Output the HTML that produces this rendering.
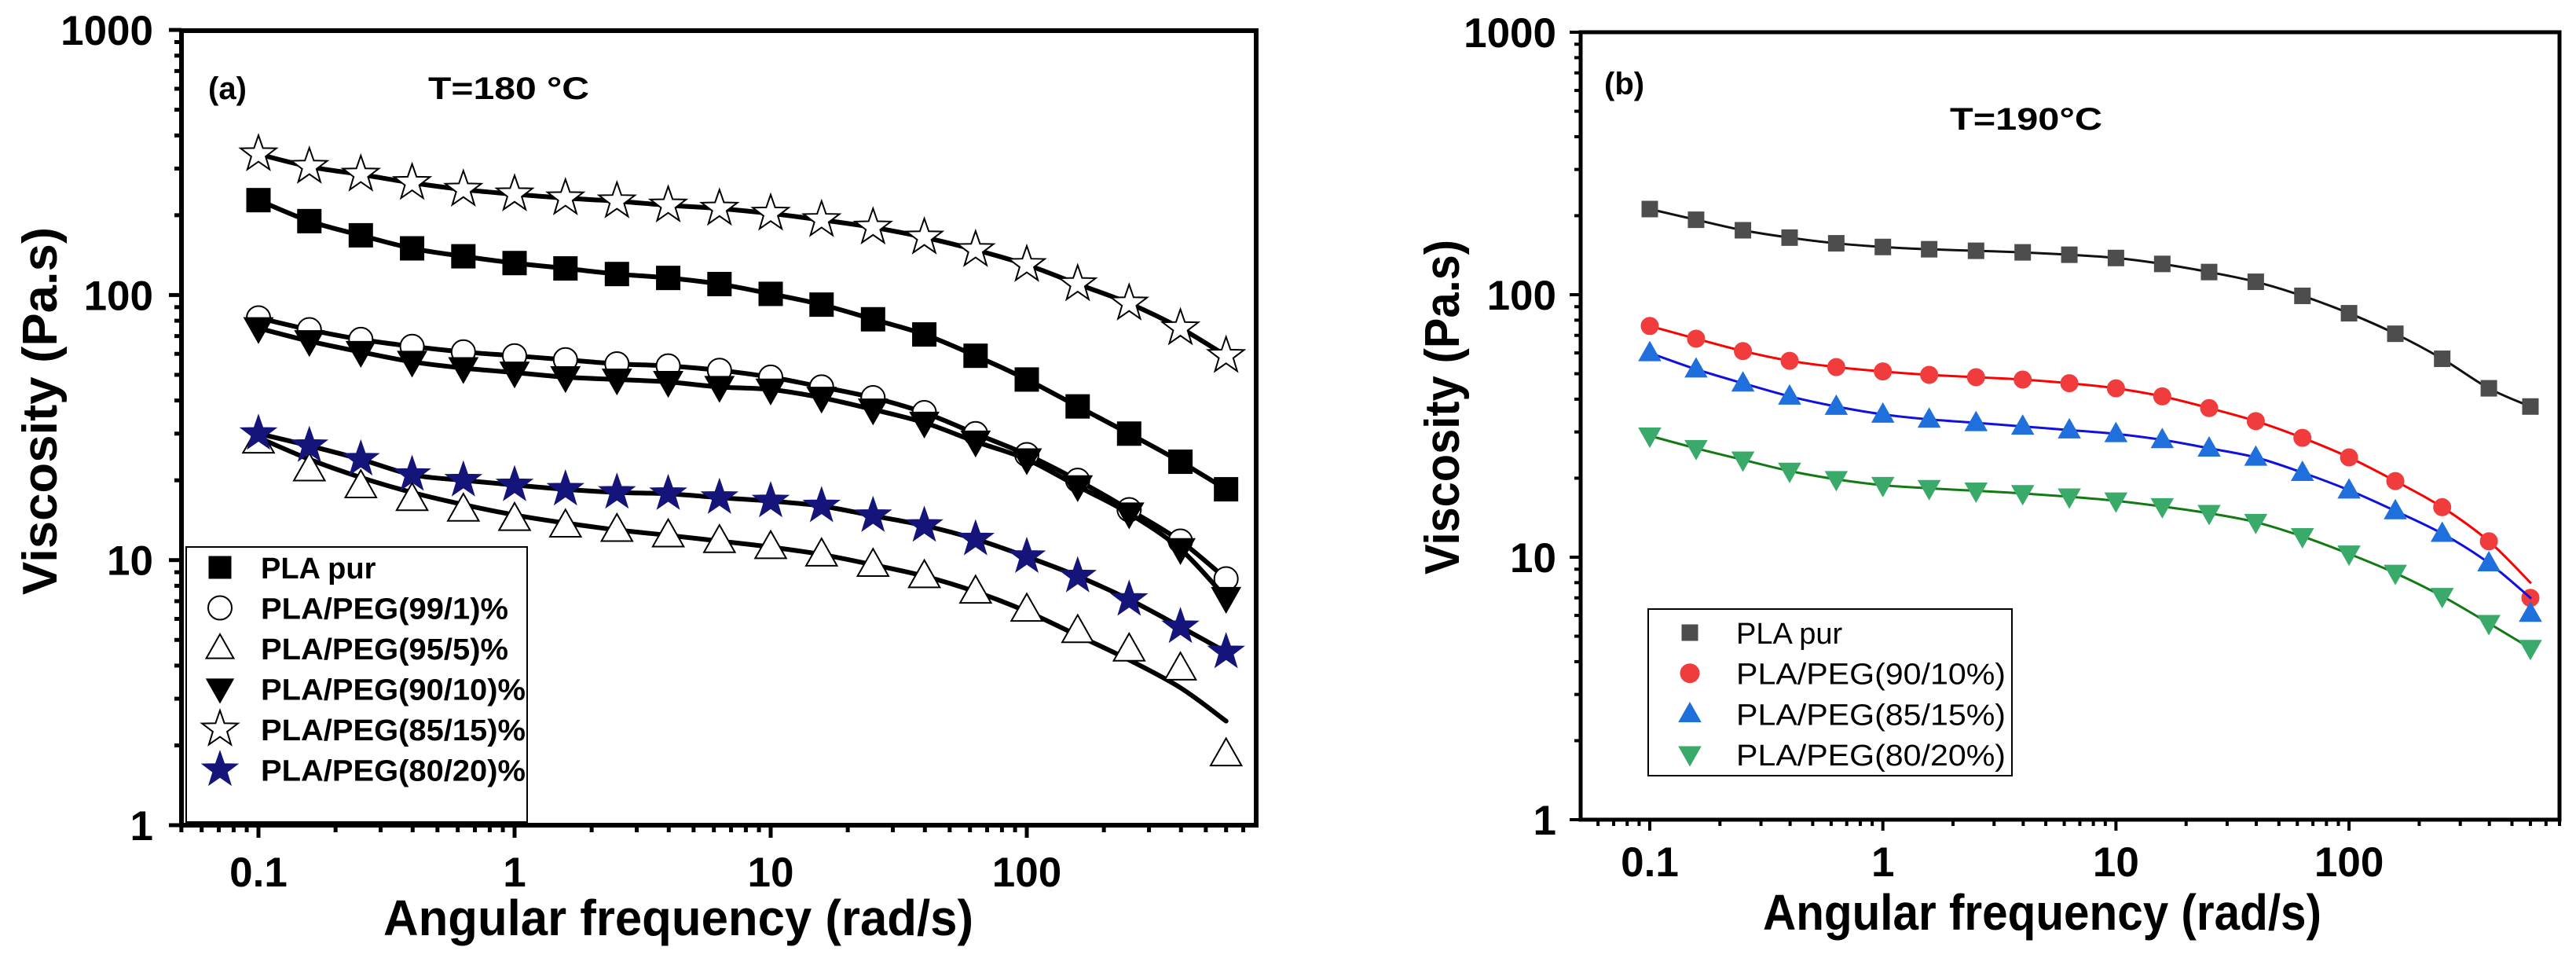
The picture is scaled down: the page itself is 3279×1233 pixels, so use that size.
<!DOCTYPE html>
<html><head><meta charset="utf-8"><style>
html,body{margin:0;padding:0;background:#fff;}
svg{display:block;font-family:"Liberation Sans",Arial,sans-serif;}
</style></head><body>
<svg id="chart" width="3279" height="1233" viewBox="0 0 3279 1233" xmlns="http://www.w3.org/2000/svg"></svg>
<script>
// ---- data ----
const freqs = [0.1,0.158,0.251,0.398,0.631,1,1.58,2.51,3.98,6.31,10,15.8,25.1,39.8,63.1,100,158,251,398,600];
const yTicks = [1,10,100,1000];
const yTickLabels = ["1","10","100","1000"];
const xTicks = [0.1,1,10,100];
const xTickLabels = ["0.1","1","10","100"];
// panel a
const aPur   = [228,190,168,150,140,132,126,120,116,110,101,92,81,71,59,48,38,30,23.5,18.5];
const a99    = [82,74,68,64,61,59,57,55,54,52,49,45,41,36,30,25,20,15.5,11.8,8.5];
const a95    = [28,22,19,17,15.5,14.3,13.5,13,12.4,11.8,11.2,10.5,9.6,8.7,7.6,6.5,5.4,4.6,3.9,1.85];
const a95fit = [29,24,20.5,18,16.2,14.8,13.8,13,12.4,11.8,11.2,10.5,9.6,8.7,7.6,6.4,5.2,4.2,3.3,2.47];
const a90    = [75,67,61,56,53,51,49,48,47,45,44,41,37,33,28,24,19,15,11,7.2];
const a85    = [340,305,285,265,250,240,232,226,218,212,203,192,180,165,148,130,110,93,75,59];
const a80    = [30,27,24,21,20,19.2,18.5,18,17.8,17.2,16.7,16,14.7,13.5,12,10.3,8.7,7.1,5.6,4.5];
// panel b
const bPur = [212,193,176,165,157,152,149,147,145,142,138,131,122,112,99,85,71,57,44,37.5];
const b90  = [76,68,61,56,53,51,49.5,48.5,47.5,46,44,41,37,33,28.5,24,19.5,15.5,11.5,7.0];
const b90fit = [76,68,61,56,53,51,49.5,48.5,47.5,46,44,41,37,33,28.5,24,19.5,15.5,11.5,8.0];
const b85  = [60,52,46,41,37.5,35,33.5,32.5,31.5,30.5,29.5,28,26,24,21,18,15,12.3,9.5,6.1];
const b85fit = [60,52,46,41,37.5,35,33.5,32.5,31.5,30.5,29.5,28,26,24,21,18,15,12.3,9.5,7.0];
const b80  = [29,26,23.5,21.3,19.8,18.8,18.3,17.9,17.5,17,16.4,15.6,14.7,13.6,12,10.3,8.7,7.1,5.6,4.5];

const NS="http://www.w3.org/2000/svg";
const svg=document.getElementById('chart');
function el(tag,attrs,parent){const e=document.createElementNS(NS,tag);for(const k in attrs)e.setAttribute(k,attrs[k]);(parent||svg).appendChild(e);return e;}

function makePanel(cfg){
  const g=el('g',{});
  
  
  const X=v=>cfg.x01+cfg.dec*Math.log10(v/0.1);
  const Y=v=>cfg.bottom-cfg.ydec*Math.log10(v);
  cfg.X=X;cfg.Y=Y;
  // ticks
  const tg=el('g',{stroke:'#000','stroke-width':cfg.tw},g);
  
  
  for(let d=-2;d<=3;d++){for(let m=1;m<=9;m++){const v=m*Math.pow(10,d);const x=X(v);
    if(x<cfg.left-1||x>cfg.right+1)continue;
    const L=m===1?cfg.major:cfg.minor;
    el('line',{x1:x,x2:x,y1:cfg.bottom,y2:cfg.bottom+L},tg);}}
  for(let d=0;d<=2;d++){for(let m=1;m<=9;m++){const v=m*Math.pow(10,d);const y=Y(v);
    const L=m===1?cfg.major:cfg.minor;
    el('line',{x1:cfg.left,x2:cfg.left-L,y1:y,y2:y},tg);}}
  el('line',{x1:cfg.left-cfg.major,x2:cfg.left,y1:Y(1000),y2:Y(1000)},tg);
  // frame
  const fr=el('rect',{x:cfg.left,y:cfg.top,width:cfg.right-cfg.left,height:cfg.bottom-cfg.top,fill:'none',stroke:'#000','stroke-width':cfg.fw},g);
  
  
  // tick labels
  yTicks.forEach((v,i)=>{const t=el('text',{x:cfg.ylabX,y:Y(v)+19,'text-anchor':'end','font-size':53,'font-weight':'bold'},g);t.textContent=yTickLabels[i];
    
    });
  xTicks.forEach((v,i)=>{const t=el('text',{x:X(v),y:cfg.xlabY,'text-anchor':'middle','font-size':53,'font-weight':'bold'},g);t.textContent=xTickLabels[i];
    
    });
  // axis titles
  const xt=el('text',{x:cfg.xtX,y:cfg.xtY,'font-size':64,'font-weight':'bold',textLength:cfg.xtW,lengthAdjust:'spacingAndGlyphs'},g);
  xt.textContent='Angular frequency (rad/s)';
  
  
  const yt=el('text',{x:0,y:0,'font-size':62,'font-weight':'bold','text-anchor':'middle',textLength:cfg.ytW,lengthAdjust:'spacingAndGlyphs',transform:`translate(${cfg.ytX},${cfg.ytY}) rotate(-90)`},g);
  yt.textContent='Viscosity (Pa.s)';
  
  
  return g;
}

function smoothPath(X,Y,vals){
  const p=freqs.map((f,i)=>[X(f),Y(vals[i])]);
  let d=`M${p[0][0]},${p[0][1]}`;
  for(let i=0;i<p.length-1;i++){
    const p0=p[Math.max(0,i-1)],p1=p[i],p2=p[i+1],p3=p[Math.min(p.length-1,i+2)];
    const c1=[p1[0]+(p2[0]-p0[0])/6,p1[1]+(p2[1]-p0[1])/6];
    const c2=[p2[0]-(p3[0]-p1[0])/6,p2[1]-(p3[1]-p1[1])/6];
    d+=` C${c1[0]},${c1[1]} ${c2[0]},${c2[1]} ${p2[0]},${p2[1]}`;
  }
  return d;
}

function marker(parent,type,x,y,s,fill,stroke,sw){
  let e;
  if(type==='square') e=el('rect',{x:x-s/2,y:y-s/2,width:s,height:s,fill,stroke,'stroke-width':sw},parent);
  else if(type==='circle') e=el('circle',{cx:x,cy:y,r:s/2,fill,stroke,'stroke-width':sw},parent);
  else if(type==='tri') e=el('polygon',{points:`${x},${y-s*0.6} ${x-s*0.58},${y+s*0.42} ${x+s*0.58},${y+s*0.42}`,fill,stroke,'stroke-width':sw},parent);
  else if(type==='tridown') e=el('polygon',{points:`${x},${y+s*0.6} ${x-s*0.58},${y-s*0.42} ${x+s*0.58},${y-s*0.42}`,fill,stroke,'stroke-width':sw},parent);
  else if(type==='star'){let pts=[];for(let k=0;k<10;k++){const r=k%2?s*0.24:s*0.6;const a=-Math.PI/2+k*Math.PI/5;pts.push(`${x+r*Math.cos(a)},${y+r*Math.sin(a)}`);}
    e=el('polygon',{points:pts.join(' '),fill,stroke,'stroke-width':sw,'stroke-linejoin':'miter'},parent);}
  return e;
}

function drawSeries(cfg,parent,name,vals,fit,type,s,fill,stroke,sw,lineColor,lw){
  const g=el('g',{},parent);
  
  
  const ln=el('path',{d:smoothPath(cfg.X,cfg.Y,fit),fill:'none',stroke:lineColor,'stroke-width':lw,'stroke-linecap':'round'},g);
  
  
  freqs.forEach((f,i)=>{const m=marker(g,type,cfg.X(f),cfg.Y(vals[i]),s,fill,stroke,sw);
    
    });
}

// ---- panel a ----
const A={name:'panel-a',left:231,right:1599,top:39,bottom:1050,x01:329,dec:326,ydec:337.3,tw:5,fw:6,major:16,minor:9,
  ylabX:195,xlabY:1128,xtX:488,xtY:1190,xtW:751,ytX:72,ytY:523,ytW:468};
const ga=makePanel(A);
drawSeries(A,ga,'series-a-85-15',a85,a85,'star',40,'#fff','#000',2,'#000',6);
drawSeries(A,ga,'series-a-pla-pur',aPur,aPur,'square',30,'#000','#000',1,'#000',6);
drawSeries(A,ga,'series-a-99-1',a99,a99,'circle',30,'#fff','#000',2,'#000',6);
drawSeries(A,ga,'series-a-90-10',a90,a90,'tridown',32,'#000','#000',1,'#000',6);
drawSeries(A,ga,'series-a-95-5',a95,a95fit,'tri',34,'#fff','#000',2,'#000',6);
drawSeries(A,ga,'series-a-80-20',a80,a80,'star',40,'#14147a','#14147a',1,'#000',6);
let t=el('text',{x:265,y:126,'font-size':40,'font-weight':'bold'},ga);t.textContent='(a)';


t=el('text',{x:545,y:126,'font-size':40,'font-weight':'bold',textLength:205,lengthAdjust:'spacingAndGlyphs'},ga);t.textContent='T=180 °C';


// legend a
const lgA=el('g',{},ga);


el('rect',{x:237,y:696,width:434,height:350,fill:'#fff',stroke:'#000','stroke-width':2},lgA);
const legAItems=[['PLA pur','square','#000','#000',1],['PLA/PEG(99/1)%','circle','#fff','#000',2],['PLA/PEG(95/5)%','tri','#fff','#000',2],['PLA/PEG(90/10)%','tridown','#000','#000',1],['PLA/PEG(85/15)%','star','#fff','#000',2],['PLA/PEG(80/20)%','star','#14147a','#14147a',1]];
legAItems.forEach((it,i)=>{const y=722+i*51.5;
  const e=el('g',{},lgA);
  
  
  marker(e,it[1],280,y,it[1]==='star'?40:(it[1]==='square'?28:30),it[2],it[3],it[4]);
  const tx=el('text',{x:332,y:y+14,'font-size':38,'font-weight':'bold'},e);tx.textContent=it[0];
  if(i>0)tx.setAttribute('textLength',315+(i>=3?22:0)),tx.setAttribute('lengthAdjust','spacingAndGlyphs');
});

// ---- panel b ----
const B={name:'panel-b',left:2012,right:3258,top:41,bottom:1043,x01:2100,dec:296.7,ydec:334,tw:4,fw:5,major:14,minor:8,
  ylabX:1981,xlabY:1115,xtX:2244,xtY:1183,xtW:711,ytX:1857,ytY:518,ytW:426};
const gb=makePanel(B);
drawSeries(B,gb,'series-b-pla-pur',bPur,bPur,'square',20,'#4d4d4d','#4d4d4d',1,'#111',3);
drawSeries(B,gb,'series-b-90-10',b90,b90fit,'circle',22,'#f03c3c','#f03c3c',1,'#f00',3);
drawSeries(B,gb,'series-b-85-15',b85,b85fit,'tri',24,'#1f6fdc','#1f6fdc',1,'#1010e0',3);
drawSeries(B,gb,'series-b-80-20',b80,b80,'tridown',24,'#3aaa6a','#3aaa6a',1,'#127a12',3);
t=el('text',{x:2042,y:120,'font-size':40,'font-weight':'bold'},gb);t.textContent='(b)';


t=el('text',{x:2482,y:165,'font-size':40,'font-weight':'bold',textLength:194,lengthAdjust:'spacingAndGlyphs'},gb);t.textContent='T=190°C';


const lgB=el('g',{},gb);


el('rect',{x:2098,y:775,width:463,height:212,fill:'#fff',stroke:'#000','stroke-width':2},lgB);
const legBItems=[['PLA pur','square','#4d4d4d'],['PLA/PEG(90/10%)','circle','#f03c3c'],['PLA/PEG(85/15%)','tri','#1f6fdc'],['PLA/PEG(80/20%)','tridown','#3aaa6a']];
legBItems.forEach((it,i)=>{const y=805+i*51.7;
  const e=el('g',{},lgB);
  
  
  marker(e,it[1],2151,y,it[1]==='square'?20:24,it[2],it[2],1);
  const tx=el('text',{x:2210,y:y+14,'font-size':38},e);tx.textContent=it[0];
  if(i>0)tx.setAttribute('textLength',343),tx.setAttribute('lengthAdjust','spacingAndGlyphs');
});
</script>
</body></html>
